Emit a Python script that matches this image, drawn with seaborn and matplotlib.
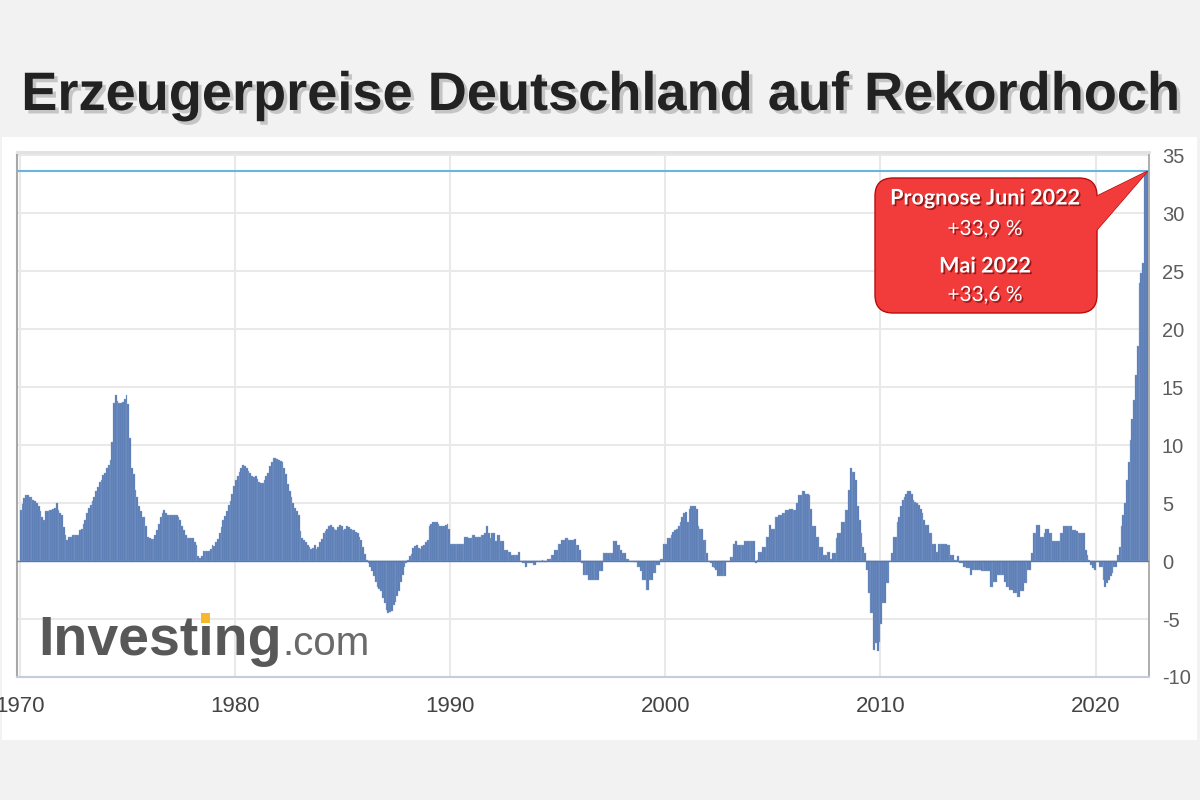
import numpy as np
import pandas as pd
import matplotlib
matplotlib.use("Agg")
import matplotlib.pyplot as plt
import seaborn as sns
from matplotlib import patches
from matplotlib import patheffects as pe
from matplotlib.transforms import IdentityTransform

## Erzeugerpreise Deutschland, Veraenderung zum Vorjahresmonat in %, monatlich ab Jan 1970
yoy_1970s = [
    4.4, 4.9, 5.4, 5.7, 5.7, 5.5, 5.5, 5.3, 5.2, 5.0, 4.7, 4.3,
    3.8, 3.5, 4.3, 4.3, 4.4, 4.4, 4.5, 4.6, 5.0, 4.4, 4.1, 4.0,
    2.9, 2.2, 1.8, 2.1, 2.1, 2.2, 2.2, 2.2, 2.2, 2.7, 2.8, 3.2,
    3.5, 4.1, 4.6, 4.8, 5.2, 5.5, 6.0, 6.4, 6.8, 7.0, 7.4, 7.6,
    8.0, 8.3, 8.7, 10.3, 13.6, 14.3, 13.8, 13.6, 13.6, 13.7, 14.0, 14.3,
    13.5, 10.6, 8.0, 7.5, 6.1, 5.5, 4.7, 4.3, 3.8, 3.8, 3.0, 2.1,
    2.0, 1.9, 1.9, 2.2, 2.7, 3.2, 3.8, 4.1, 4.4, 4.1, 4.0, 4.0,
    4.0, 4.0, 4.0, 4.0, 3.8, 3.5, 3.0, 2.7, 2.2, 2.0, 2.0, 2.0,
    2.0, 1.6, 1.4, 0.4, 0.3, 0.4, 0.9, 0.9, 0.9, 0.9, 1.0, 1.4,
    1.3, 1.6, 1.9, 2.4, 2.9, 3.5, 3.9, 4.3, 4.8, 5.2, 5.8, 6.5,
]
yoy_1980s = [
    7.0, 7.3, 7.7, 8.0, 8.3, 8.2, 8.0, 7.8, 7.6, 7.3, 7.2, 7.3,
    7.1, 6.8, 6.7, 6.7, 7.0, 7.3, 7.6, 8.2, 8.5, 8.9, 8.9, 8.8,
    8.7, 8.6, 8.5, 8.0, 7.5, 6.6, 6.0, 5.5, 5.0, 4.6, 4.3, 4.0,
    2.6, 2.0, 1.8, 1.6, 1.4, 1.2, 1.0, 1.1, 1.4, 1.0, 1.2, 1.6,
    1.9, 2.4, 2.6, 2.8, 3.0, 3.1, 2.9, 2.8, 2.7, 2.9, 3.1, 3.0,
    2.7, 2.8, 3.0, 2.9, 2.8, 2.7, 2.7, 2.5, 2.4, 2.1, 1.8, 1.2,
    0.6, 0.1, -0.2, -0.5, -0.9, -1.3, -1.8, -2.2, -2.4, -2.6, -3.2, -3.6,
    -4.2, -4.5, -4.4, -4.3, -3.8, -3.5, -3.0, -2.6, -1.8, -1.2, -0.5, -0.2,
    0.1, 0.4, 0.6, 1.1, 1.3, 1.4, 1.1, 1.0, 1.3, 1.4, 1.6, 1.8,
    3.0, 3.2, 3.4, 3.4, 3.4, 3.2, 3.0, 3.0, 3.0, 3.1, 3.2, 2.8,
]
yoy_1990s = [
    1.5, 1.5, 1.5, 1.5, 1.5, 1.5, 1.5, 1.5, 2.1, 2.1, 2.0, 2.0,
    2.2, 2.2, 2.1, 2.1, 2.1, 2.2, 2.2, 2.4, 3.0, 2.4, 2.0, 2.4,
    2.4, 1.7, 2.2, 2.2, 1.7, 1.7, 0.95, 0.95, 0.8, 0.8, 0.5, 0.5,
    0.5, 0.5, 0.8, 0.0, -0.2, -0.2, -0.5, -0.2, -0.2, -0.2, -0.35, -0.35,
    -0.05, -0.05, -0.05, 0.1, -0.05, -0.05, 0.2, 0.2, 0.5, 0.5, 0.95, 0.95,
    1.5, 1.5, 1.8, 1.8, 2.0, 2.0, 1.8, 1.8, 1.8, 1.9, 1.4, 1.4,
    0.95, -0.2, -1.2, -1.2, -1.2, -1.6, -1.6, -1.6, -1.6, -1.6, -1.6, -0.9,
    -0.9, 0.7, 0.7, 0.7, 0.7, 0.7, 0.7, 1.7, 1.7, 1.4, 1.4, 0.95,
    0.7, 0.7, 0.2, 0.2, 0.0, 0.0, -0.05, -0.05, -0.5, -0.5, -0.9, -1.6,
    -1.6, -2.5, -2.5, -1.6, -1.6, -1.0, -1.0, -0.35, -0.35, 0.2, 0.2, 1.5,
]
yoy_2000s = [
    1.5, 2.0, 2.0, 2.2, 2.5, 2.7, 2.8, 3.0, 3.4, 3.8, 4.1, 4.2,
    3.4, 4.5, 4.7, 4.7, 4.7, 4.5, 3.0, 2.8, 2.8, 1.8, 1.8, 0.7,
    0.0, -0.2, -0.5, -0.6, -0.8, -1.3, -1.3, -1.3, -1.3, -1.3, 0.0, 0.0,
    0.37, 0.37, 1.5, 1.7, 1.4, 1.4, 1.4, 1.4, 1.7, 1.7, 1.7, 1.7,
    1.7, 1.7, -0.2, 0.1, 0.8, 0.8, 1.2, 1.2, 2.1, 2.1, 3.1, 2.8,
    2.8, 3.8, 3.8, 4.0, 4.0, 4.1, 4.1, 4.4, 4.4, 4.5, 4.5, 4.4,
    4.4, 5.0, 5.7, 5.7, 6.0, 6.0, 5.8, 5.8, 5.7, 4.5, 3.0, 3.0,
    2.1, 2.1, 1.2, 1.2, 0.5, 0.5, 0.8, 0.8, 0.2, 0.7, 0.7, 2.0,
    2.4, 2.4, 3.4, 3.4, 4.4, 4.4, 6.1, 8.0, 7.7, 7.7, 7.0, 4.7,
    3.5, 2.4, 1.2, 0.7, -0.8, -2.8, -4.5, -4.5, -7.7, -7.1, -7.8, -7.0,
]
yoy_2010s = [
    -5.4, -3.6, -3.6, -1.9, -1.9, 0.0, 0.7, 2.1, 2.1, 3.4, 3.8, 4.7,
    5.3, 5.5, 5.8, 6.0, 6.0, 5.8, 5.3, 5.1, 5.0, 4.8, 4.5, 4.1,
    3.5, 3.1, 3.1, 2.4, 2.4, 1.5, 1.5, 0.8, 1.5, 1.5, 1.5, 1.5,
    1.5, 1.4, 1.4, 0.5, 0.5, 0.1, 0.1, 0.4, -0.2, -0.2, -0.5, -0.5,
    -0.6, -0.6, -1.2, -0.8, -0.8, -0.8, -0.8, -0.8, -0.9, -0.9, -0.9, -0.9,
    -0.9, -2.2, -2.2, -1.8, -1.8, -1.2, -1.2, -1.2, -1.2, -1.8, -2.2, -2.2,
    -2.5, -2.5, -2.8, -2.8, -3.1, -3.1, -2.6, -2.6, -1.9, -1.9, -0.8, -0.8,
    0.66, 2.4, 2.4, 3.1, 3.1, 2.1, 2.1, 2.4, 2.8, 2.8, 2.4, 2.4,
    1.7, 1.7, 1.7, 1.7, 2.4, 2.4, 3.0, 3.0, 3.0, 3.0, 3.0, 2.7,
    2.7, 2.6, 2.4, 2.4, 2.4, 2.4, 0.95, 0.5, 0.1, -0.35, -0.6, -0.8,
]
yoy_2020s = [
    -0.05, -0.05, -0.5, -0.5, -1.6, -2.2, -1.9, -1.6, -1.3, -1.06, -0.5, -0.5,
    0.5, 1.2, 3.0, 4.0, 5.0, 7.0, 8.5, 10.4, 12.2, 13.9, 16.0, 18.5,
    24.0, 24.8, 25.7, 33.5, 33.6,
]
start_year = 1970
x_ticks = [1970, 1980, 1990, 2000, 2010, 2020]
y_ticks = [-10, -5, 0, 5, 10, 15, 20, 25, 30, 35]

title = "Erzeugerpreise Deutschland auf Rekordhoch"
callout = ["Prognose Juni 2022", "+33,9 %", "Mai 2022", "+33,6 %"]

values = yoy_1970s + yoy_1980s + yoy_1990s + yoy_2000s + yoy_2010s + yoy_2020s
df = pd.DataFrame({"v": values})
df["t"] = start_year + (np.arange(len(df)) + 0.5) / 12

BAR = "#5479b3"
RED = "#f23c3c"
DARKRED = "#b80d0d"

sns.set_style("white")
plt.rcParams["font.family"] = ["Liberation Sans", "DejaVu Sans"]
plt.rcParams["axes.unicode_minus"] = False

fig = plt.figure(figsize=(12, 8), dpi=100, facecolor="#f2f2f2")
fig.patches.append(patches.Rectangle((2 / 1200, 60 / 800), 1195 / 1200, 603 / 800,
                                     transform=fig.transFigure, facecolor="white",
                                     edgecolor="none", zorder=-5))

ax = fig.add_axes([17.3 / 1200, 123 / 800, 1132 / 1200, 525 / 800])
ax.set_facecolor("white")
sns.barplot(data=df, x="t", y="v", native_scale=True, width=1.0, color=BAR,
            saturation=1, edgecolor="#8ea7cf", linewidth=0.25, errorbar=None,
            ax=ax, zorder=2)

ax.axhline(0, color=BAR, lw=1.0, zorder=3)
ax.axhline(df["v"].iloc[-1], color="#69b4e0", lw=1.5, zorder=3)

ax.set_xlim(1969.88, 2022.5)
ax.set_ylim(-10, 35.26)
ax.set_xticks(x_ticks)
ax.set_xticklabels([str(y) for y in x_ticks])
ax.set_yticks(y_ticks)
ax.set_yticklabels([str(y) for y in y_ticks])
ax.yaxis.tick_right()
ax.set_xlabel("")
ax.set_ylabel("")
ax.tick_params(axis="y", length=0, pad=9, labelsize=14.5, labelcolor="#5c5c5c")
ax.tick_params(axis="x", length=0, pad=14, labelsize=16, labelcolor="#444444")
ax.grid(True, color="#e9e9e9", lw=1.5)
ax.set_axisbelow(True)

ax.spines["left"].set_color("#a8a8a8")
ax.spines["left"].set_linewidth(1.5)
ax.spines["top"].set_color("#e2e2e2")
ax.spines["top"].set_linewidth(2.2)
ax.spines["right"].set_color("#a0a0a0")
ax.spines["right"].set_linewidth(1.2)
ax.spines["bottom"].set_color("#c4cde0")
ax.spines["bottom"].set_linewidth(1.5)

# title with shadow
fig.text(0.5, 1 - 110 / 800, title, ha="center", va="baseline", fontsize=39,
         fontweight="bold", color="#222222",
         path_effects=[pe.withSimplePatchShadow(offset=(2.5, -2.5), shadow_rgbFace="#999999", alpha=0.5)])

# investing.com logo
renderer = fig.canvas.get_renderer()
base_y = 1 - 655 / 800
logo = fig.text(38 / 1200, base_y, "Investing", fontsize=40, fontweight="bold",
                color="#585858", va="baseline", ha="left", zorder=5)
ext = logo.get_window_extent(renderer)
fig.text(ext.x1 / 1200 + 0.001, base_y, ".com", fontsize=29, color="#6a6a6a",
         va="baseline", ha="left", zorder=5)
t1 = fig.text(38 / 1200, base_y, "Invest", fontsize=40, fontweight="bold", alpha=0)
t2 = fig.text(38 / 1200, base_y, "Investi", fontsize=40, fontweight="bold", alpha=0)
xi = (t1.get_window_extent(renderer).x1 + t2.get_window_extent(renderer).x1) / 2
t1.remove()
t2.remove()
fig.add_artist(patches.Rectangle((xi - 4.5, 800 - 655 + 32), 9, 10, transform=IdentityTransform(),
                                 facecolor="#f5b82e", edgecolor="none", zorder=6))

# red callout pointing at the last bar
tip = ax.transData.transform((df["t"].iloc[-1] + 1 / 24, df["v"].iloc[-1]))
pointer = [(1085, 598), (tip[0], tip[1]), (1089, 561)]
fig.add_artist(patches.Polygon(pointer, closed=True, transform=IdentityTransform(),
                               facecolor=RED, edgecolor=DARKRED, lw=1.0, zorder=10))
fig.add_artist(patches.FancyBboxPatch((875, 487), 222, 135,
                                      boxstyle="round,pad=0,rounding_size=18",
                                      transform=IdentityTransform(), facecolor=RED,
                                      edgecolor=DARKRED, lw=1.0, zorder=11))
fig.add_artist(patches.Polygon(pointer, closed=True, transform=IdentityTransform(),
                               facecolor=RED, edgecolor="none", zorder=12))

shadow = [pe.withSimplePatchShadow(offset=(1.2, -1.2), shadow_rgbFace="#5a0000", alpha=0.6)]
rows_y = [198, 229, 266, 295]
weights = ["bold", "normal", "bold", "normal"]
sizes = [15.5, 15, 15.5, 15]
for txt, yy, w, s in zip(callout, rows_y, weights, sizes):
    fig.text(985 / 1200, 1 - yy / 800, txt, ha="center", va="center", fontsize=s,
             fontweight=w, color="white", family=["Lato", "DejaVu Sans"],
             path_effects=shadow, zorder=13)

fig.savefig("out.png", dpi=100, facecolor=fig.get_facecolor())
